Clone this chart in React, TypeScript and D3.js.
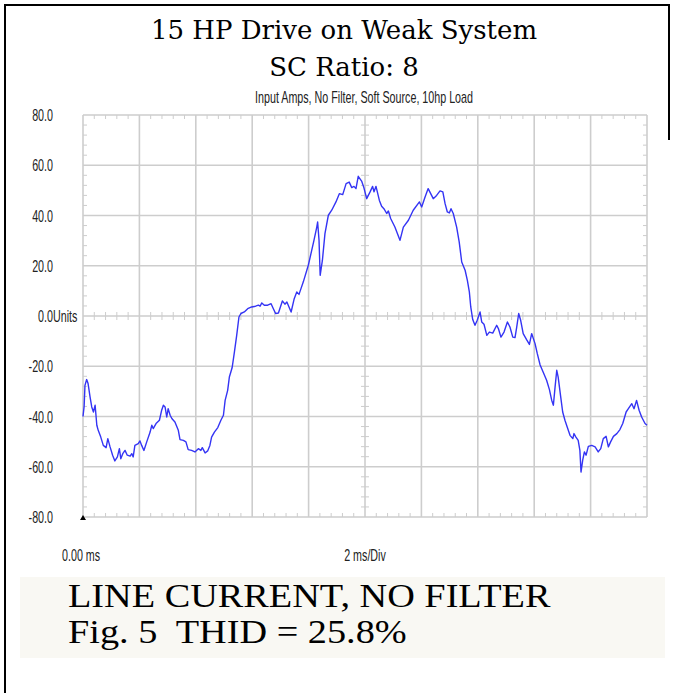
import React from 'react';
import * as d3 from 'd3';

// waveform: time (ms) and input current (A)
const timeMs = [
  0, 0.04, 0.07, 0.13, 0.18, 0.25, 0.31, 0.37, 0.43, 0.49, 0.54, 0.63, 0.72, 0.82, 0.88, 0.96,
  1.05, 1.13, 1.22, 1.29, 1.34, 1.41, 1.49, 1.57, 1.67, 1.73, 1.78, 1.84, 1.96, 2.02, 2.08, 2.16,
  2.26, 2.38, 2.44, 2.49, 2.59, 2.71, 2.79, 2.85, 2.91, 2.97, 3.02, 3.09, 3.15, 3.26, 3.38, 3.44,
  3.56, 3.65, 3.73, 3.85, 3.97, 4.09, 4.18, 4.23, 4.33, 4.42, 4.5, 4.56, 4.66, 4.78, 4.89, 4.98,
  5.04, 5.13, 5.19, 5.29, 5.37, 5.45, 5.53, 5.6, 5.72, 5.84, 5.98, 6.12, 6.22, 6.28, 6.34, 6.43,
  6.55, 6.67, 6.75, 6.83, 6.93, 7.07, 7.16, 7.23, 7.38, 7.49, 7.58, 7.66, 7.73, 7.81, 7.99, 8.11,
  8.19, 8.29, 8.32, 8.37, 8.41, 8.49, 8.58, 8.7, 8.82, 8.97, 9.09, 9.21, 9.33, 9.44, 9.53, 9.61,
  9.68, 9.76, 9.88, 9.96, 10.06, 10.18, 10.27, 10.32, 10.39, 10.51, 10.59, 10.67, 10.77, 10.83, 10.91, 11.06,
  11.24, 11.36, 11.54, 11.71, 11.93, 12.01, 12.13, 12.24, 12.42, 12.54, 12.66, 12.76, 12.84, 12.92, 12.99, 13.05,
  13.13, 13.25, 13.34, 13.43, 13.55, 13.63, 13.7, 13.75, 13.82, 13.9, 13.98, 14.08, 14.14, 14.22, 14.32, 14.41,
  14.53, 14.67, 14.73, 14.82, 14.93, 15.05, 15.14, 15.24, 15.32, 15.38, 15.45, 15.52, 15.61, 15.73, 15.83, 15.91,
  16.03, 16.11, 16.21, 16.32, 16.44, 16.54, 16.62, 16.68, 16.74, 16.8, 16.85, 16.94, 17.01, 17.09, 17.17, 17.27,
  17.37, 17.41, 17.48, 17.56, 17.62, 17.66, 17.72, 17.78, 17.84, 17.92, 18.04, 18.16, 18.27, 18.36, 18.45, 18.55,
  18.63, 18.71, 18.81, 18.93, 19.04, 19.14, 19.26, 19.34, 19.46, 19.54, 19.63, 19.72, 19.81, 19.93, 20,
];
const amps = [
  -40, -36, -27.6, -25.3, -26.9, -32.2, -36.2, -38.2, -35.5, -43.5, -45.5, -48.2, -51.5, -52.4, -48.8, -52.1,
  -55.4, -57.7, -56.1, -52.8, -56.8, -54.8, -53.5, -55.4, -55.8, -54.8, -56.1, -51.5, -50.8, -49.7, -51.5, -53.5,
  -50.1, -46.2, -43.5, -44.8, -42.8, -41.5, -37.5, -35.5, -36.2, -40.2, -36.9, -39.5, -40.8, -42.2, -45.5, -49.2,
  -49.5, -50.1, -53.2, -53.5, -54.1, -52.8, -53.5, -52.4, -54.5, -53.7, -51.5, -48.2, -46.2, -44.4, -41.5, -39.5,
  -33.6, -29.6, -24.3, -20.5, -14.3, -7.7, -0.4, 1.0, 1.6, 2.9, 3.6, 3.9, 4.3, 3.9, 5.2, 4.3,
  4.3, 4.9, 2.9, 1.0, 1.2, 6.0, 4.7, 5.6, 1.6, 6.9, 9.6, 8.6, 10.9, 13.5, 20.2, 26.1,
  30.1, 35.4, 37.4, 30.1, 16.2, 22.2, 32.8, 40.1, 42.1, 45.4, 48.7, 48.3, 52.7, 53.3, 51.1, 51.6,
  50.7, 55.6, 53.7, 51.1, 46.7, 49.4, 51.6, 49.4, 51.6, 46.0, 43.7, 42.7, 40.8, 41.8, 38.8, 35.4,
  30.1, 35.4, 38.1, 42.1, 45.4, 43.4, 47.4, 50.7, 46.7, 48, 49.8, 49.4, 44.7, 41.4, 41.0, 42.7,
  40.8, 35.4, 29.5, 21.5, 18.2, 14.2, 9.6, 3.6, -1.4, -3.7, -1.7, 1.6, -2.4, -3.3, -7.7, -6.4,
  -6.8, -3.7, -5.0, -8.4, -6.4, -2.4, -4.4, -8.4, -8.6, -4.4, 1.0, -1.7, -7.0, -9.4, -11.3, -7.0,
  -11.0, -15.0, -19.5, -22.4, -25.6, -29.3, -33.5, -35.5, -28.3, -21.6, -24.3, -32.2, -38.2, -41.5, -44.2, -47.5,
  -48.8, -46.8, -48.2, -49.5, -53.5, -62.1, -57.4, -54.1, -55.4, -51.9, -51.5, -52.1, -54.1, -52.8, -48.8, -47.9,
  -52.1, -50.1, -47.9, -46.8, -45.2, -42.8, -38.2, -36.9, -34.9, -36.9, -33.6, -37.5, -40.2, -42.8, -43.5,
];

const yTicks = [80, 60, 40, 20, 0, -20, -40, -60, -80];
const xDivs = [0, 2, 4, 6, 8, 10, 12, 14, 16, 18, 20];
const titleLines = ['15 HP Drive on Weak System', 'SC Ratio: 8'];
const subtitle = 'Input Amps, No Filter, Soft Source, 10hp Load';
const xStartLabel = '0.00 ms';
const xScaleLabel = '2 ms/Div';
const captionLines = ['LINE CURRENT, NO FILTER', 'Fig. 5  THID = 25.8%'];

const W = 675;
const H = 693;
const grid = '#cdcdcd';
const narrow = 'Liberation Sans, Arial, sans-serif';

const App: React.FC = () => {
  const x = d3.scaleLinear().domain([0, 20]).range([83, 647]);
  const y = d3.scaleLinear().domain([-80, 80]).range([517, 115]);

  const pts: [number, number][] = timeMs.map((t, i) => [x(t), y(amps[i])]);
  const line = d3.line<[number, number]>();

  // minor ticks: 5 subdivisions per division
  const xMinor = d3.range(0, 20.001, 0.4).filter(v => Math.abs(v / 2 - Math.round(v / 2)) > 0.01);
  const yMinor = d3.range(-80, 80.001, 4).filter(v => v % 20 !== 0);
  const tl = 4;

  const small = (tx: number, ty: number, s: string, anchor: string) => (
    <g transform={`translate(${tx},${ty}) scale(0.67,1)`}>
      <text textAnchor={anchor} fontFamily={narrow} fontSize={16} fill="#222">{s}</text>
    </g>
  );

  return (
    <svg width={W} height={H} style={{ position: 'absolute', left: 0, top: 0, background: '#fff' }}>
      {/* page frame */}
      <path d={`M5,${H} V5 H669 V140`} fill="none" stroke="#000" strokeWidth={2} />

      {titleLines.map((s, i) => (
        <text key={s} x={344} y={39 + i * 37} textAnchor="middle" fontFamily="DejaVu Serif, serif" fontSize={26} fill="#000">{s}</text>
      ))}
      {small(364, 103, subtitle, 'middle')}

      {/* grid */}
      {xDivs.map(v => (
        <line key={'gx' + v} x1={x(v)} x2={x(v)} y1={y(80)} y2={y(-80)} stroke={grid} strokeWidth={1.6} />
      ))}
      {yTicks.map(v => (
        <line key={'gy' + v} x1={x(0)} x2={x(20)} y1={y(v)} y2={y(v)} stroke={grid} strokeWidth={1.6} />
      ))}

      {/* minor ticks on frame edges and centre axes */}
      {xMinor.map(v => (
        <g key={'mx' + v} stroke={grid} strokeWidth={1}>
          <line x1={x(v)} x2={x(v)} y1={y(80)} y2={y(80) + tl} />
          <line x1={x(v)} x2={x(v)} y1={y(-80)} y2={y(-80) - tl} />
          <line x1={x(v)} x2={x(v)} y1={y(0) - tl} y2={y(0) + tl} />
        </g>
      ))}
      {yMinor.map(v => (
        <g key={'my' + v} stroke={grid} strokeWidth={1}>
          <line x1={x(0)} x2={x(0) + tl} y1={y(v)} y2={y(v)} />
          <line x1={x(20)} x2={x(20) - tl} y1={y(v)} y2={y(v)} />
          <line x1={x(10) - tl} x2={x(10) + tl} y1={y(v)} y2={y(v)} />
        </g>
      ))}

      {/* y labels */}
      {yTicks.map(v => (
        <React.Fragment key={'yl' + v}>
          {small(53, y(v) + 6, v.toFixed(1), 'end')}
          {v === 0 && small(53, y(v) + 6, 'Units', 'start')}
        </React.Fragment>
      ))}

      {/* trigger marker */}
      <path d={`M${x(0)},${y(-80) - 2} l3,5 h-6 z`} fill="#000" />

      <path d={line(pts) || ''} fill="none" stroke="#3434f4" strokeWidth={1.4} strokeLinejoin="round" />

      {small(62, 561, xStartLabel, 'start')}
      {small(x(10), 561, xScaleLabel, 'middle')}

      {/* caption box */}
      <rect x={20} y={577} width={645} height={81} fill="#f9f8f3" />
      {captionLines.map((s, i) => (
        <g key={s} transform={`translate(68,${607 + i * 36}) scale(1.16,1)`}>
          <text fontFamily="'Liberation Serif', 'Times New Roman', serif" fontSize={33} fill="#000" style={{ whiteSpace: 'pre' }}>{s}</text>
        </g>
      ))}
    </svg>
  );
};

export default App;
